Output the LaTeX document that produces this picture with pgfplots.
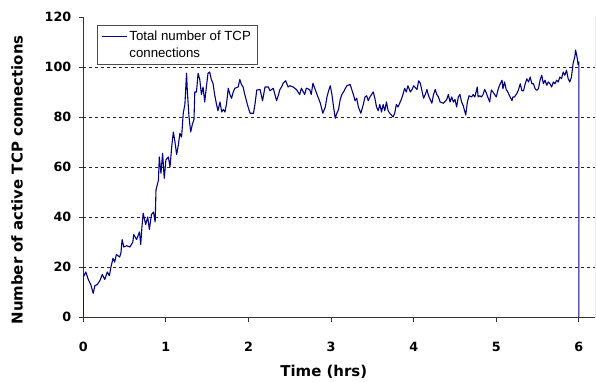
\documentclass[border=0pt]{standalone}
\usepackage{fontspec}
\setmainfont{DejaVu Sans}
\newfontfamily\legfont{Liberation Sans}
\usepackage{pgfplots}
\pgfplotsset{compat=1.18}
\definecolor{navy}{RGB}{0,0,128}
\begin{document}
\begin{tikzpicture}
\useasboundingbox (-83.3bp,-65bp) rectangle (512.7bp,317bp);
\begin{axis}[
  at={(0,0)}, anchor=south west,
  scale only axis,
  width=511.7bp, height=300bp,
  xmin=0, xmax=6.195, ymin=0, ymax=120,
  xtick={0,1,2,3,4,5,6},
  ytick={0,20,40,60,80,100,120},
  axis x line*=bottom, axis y line*=left,
  axis line style={black!80, line width=0.8bp},
  tick align=outside,
  major tick length=4.5bp,
  tick style={black!80, line width=0.8bp},
  /pgf/number format/assume math mode=true,
  ticklabel style={font=\bfseries\fontsize{12.8}{12.8}\selectfont},
  xticklabel style={anchor=center, yshift=-25bp},
  yticklabel style={anchor=east, xshift=-4bp},
  extra y ticks={20,40,60,80,100},
  extra y tick labels={},
  extra y tick style={grid=major, major tick length=0pt},
  grid style={black!85, dash pattern=on 3bp off 3bp, line width=0.7bp},
  xlabel={Time (hrs)},
  ylabel={Number of active TCP connections},
  label style={font=\bfseries\fontsize{15}{15}\selectfont},
  xlabel style={at={(axis description cs:0.470,0)}, anchor=center, yshift=-55bp},
  ylabel style={at={(axis description cs:-0.1296,0.457)}, anchor=center},
  legend style={at={(axis description cs:0.0268,0.973)}, anchor=north west,
    draw=black!70, line width=0.6bp, font=\legfont\fontsize{13.3}{17}\selectfont,
    cells={align=left}, inner xsep=4bp, inner ysep=3.5bp},
  legend cell align=left,
  legend image code/.code={\draw[#1] (0bp,8.5bp) -- (25bp,8.5bp);},
]
\addplot[navy, line width=1.1bp, line join=round] coordinates {
(0,0) (0,16) (0.03,18) (0.06,15) (0.09,13) (0.12,9.5) (0.14,12.5) (0.17,13)
(0.2,14.5) (0.23,17) (0.26,15) (0.29,18) (0.315,16.5) (0.335,20) (0.36,23.5)
(0.38,22) (0.40,25) (0.44,24) (0.455,25.5) (0.47,31) (0.49,28) (0.525,28.5)
(0.565,28) (0.6,30) (0.61,33) (0.645,31) (0.68,34) (0.695,29) (0.71,36)
(0.725,41.5) (0.755,37) (0.78,40) (0.8,35) (0.825,41) (0.85,42) (0.87,38)
(0.88,50.8) (0.91,54.8) (0.92,64) (0.94,57.5) (0.96,65.5) (0.98,55.5) (1.0,62.8)
(1.03,64) (1.05,60) (1.07,68) (1.09,74) (1.11,70) (1.13,65) (1.15,68.7)
(1.17,73.5) (1.19,72) (1.21,81.5) (1.23,85) (1.25,97.5) (1.26,90) (1.28,80)
(1.30,74) (1.32,77) (1.34,79) (1.35,90) (1.37,90) (1.39,97.5) (1.41,95)
(1.43,89) (1.45,92) (1.47,86) (1.49,92) (1.51,97.5) (1.53,98) (1.55,95)
(1.57,93.5) (1.59,89) (1.61,85.5) (1.63,82.5) (1.655,86) (1.675,82) (1.695,83)
(1.715,82) (1.735,85.5) (1.755,91.5) (1.775,89) (1.795,87.5) (1.815,90)
(1.835,91.5) (1.875,92) (1.895,95) (1.915,93) (1.935,92) (1.955,89) (1.975,86.5)
(1.995,84) (2.02,81.5) (2.06,81.5) (2.08,85.5) (2.10,90.8) (2.14,91) (2.17,86.5)
(2.2,92) (2.24,92) (2.26,90.5) (2.30,91.5) (2.32,89) (2.34,86.5) (2.36,88.5)
(2.38,91) (2.40,92) (2.42,93.5) (2.45,94.5) (2.48,92) (2.50,92.5) (2.54,92)
(2.58,91) (2.62,89) (2.64,91.5) (2.68,89) (2.70,91.5) (2.74,91) (2.76,89)
(2.78,93.5) (2.83,89) (2.87,85.5) (2.90,81.5) (2.93,84) (2.95,88) (2.97,90.5)
(2.99,92.5) (3.01,89) (3.03,84) (3.05,79.5) (3.07,81.5) (3.09,83) (3.11,87)
(3.13,89) (3.15,90) (3.19,92.5) (3.23,93) (3.25,91) (3.27,89) (3.29,86.5)
(3.31,87.5) (3.33,84) (3.36,81.5) (3.39,85) (3.41,88) (3.43,88.5) (3.45,86.5)
(3.47,88) (3.51,90) (3.53,87.5) (3.55,84) (3.57,82.5) (3.59,85) (3.61,82)
(3.63,85) (3.65,82.5) (3.67,86) (3.69,82.5) (3.71,81.5) (3.75,80) (3.77,81.5)
(3.79,85) (3.81,84) (3.85,87) (3.87,89) (3.89,91.5) (3.91,90) (3.93,92.5)
(3.96,90) (3.98,91) (4.0,92.5) (4.04,91) (4.06,94.5) (4.08,93.5) (4.10,90.5)
(4.12,87.5) (4.14,89) (4.16,91) (4.18,88.5) (4.20,87) (4.22,85.5) (4.24,89)
(4.26,91) (4.28,89) (4.30,88) (4.32,86) (4.36,85.5) (4.40,87) (4.42,89)
(4.44,86) (4.46,88) (4.48,86) (4.50,87) (4.52,84) (4.54,88) (4.56,89) (4.58,86)
(4.60,84.5) (4.63,80.8) (4.65,86) (4.67,88.5) (4.70,88) (4.72,89) (4.74,88)
(4.77,92) (4.78,88) (4.80,88.5) (4.82,88) (4.84,89) (4.86,91) (4.88,89.5)
(4.92,86) (4.94,90.8) (4.96,90) (4.98,89) (5.00,88) (5.02,90.8) (5.04,92.7)
(5.07,94.7) (5.08,91.3) (5.10,94) (5.12,91) (5.14,90) (5.16,88.5) (5.19,86.5)
(5.20,88) (5.22,88) (5.25,89.5) (5.27,91) (5.29,93.3) (5.31,90.5) (5.33,90.5)
(5.35,93.3) (5.37,95.3) (5.39,94) (5.41,96) (5.43,93.3) (5.45,93.3) (5.47,91.3)
(5.49,90.7) (5.51,91.3) (5.53,94.7) (5.55,96.7) (5.57,93.3) (5.59,94.7)
(5.61,92.7) (5.63,94) (5.65,93.3) (5.67,92) (5.69,94) (5.71,93.3) (5.73,94.7)
(5.75,94) (5.77,96) (5.79,95.3) (5.81,98) (5.83,96.7) (5.85,98.7) (5.87,95.3)
(5.89,94) (5.91,96) (5.93,101.5) (5.95,104) (5.96,106.8) (5.98,103.5)
(5.99,101) (6.0,102) (6.0,0)
};
\addlegendentry{Total number of TCP\\connections}
\draw[black!55, line width=0.8bp] (rel axis cs:1,0) -- (rel axis cs:1,1);
\end{axis}
\end{tikzpicture}
\end{document}
